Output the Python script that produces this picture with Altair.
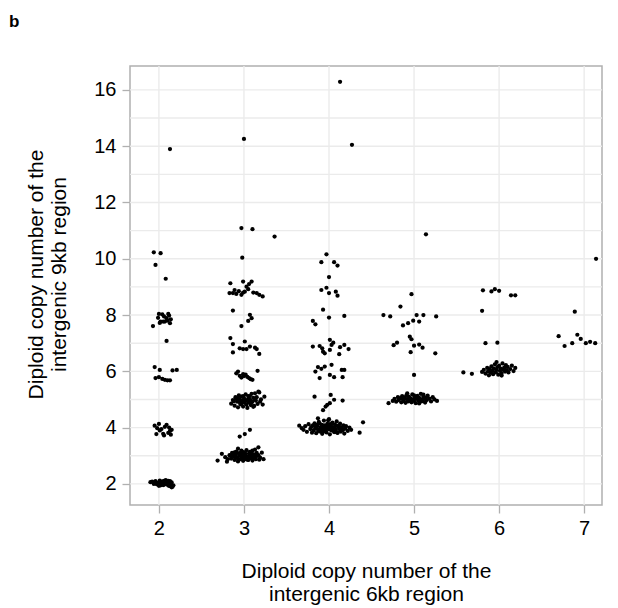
import altair as alt
import pandas as pd

# ---- data (x = jittered 6kb copy number, y = 9kb copy number) ----
col2 = [
    (2.13, 13.90), (1.94, 10.23), (2.02, 10.20), (1.96, 9.78), (2.08, 9.29),
    (2.00, 8.04), (2.06, 7.95), (2.11, 8.04), (2.09, 7.89), (2.02, 7.77), (2.05, 7.77),
    (2.13, 7.71), (1.93, 7.61), (2.07, 7.77), (1.99, 7.90), (2.12, 7.98), (2.10, 7.80),
    (2.04, 8.02), (2.01, 7.72), (2.14, 7.85), (2.09, 7.08),
    (1.95, 6.15), (2.01, 6.05), (2.16, 6.03), (2.21, 6.05), (1.96, 5.76), (2.00, 5.79),
    (2.04, 5.73), (2.07, 5.70), (2.10, 5.68), (2.13, 5.68),
    (1.95, 4.07), (2.00, 4.13), (2.03, 3.95), (1.97, 3.77), (2.09, 4.10), (2.13, 3.88),
    (2.05, 3.78), (2.11, 3.81), (2.15, 3.92), (2.07, 4.03), (2.01, 3.90), (2.12, 4.00),
    (2.14, 3.75), (1.98, 3.98), (2.06, 3.72),
]
col2_low = [
    (1.92, 2.08), (1.94, 2.05), (1.96, 2.10), (1.98, 1.98), (2.00, 2.02), (2.01, 2.12),
    (2.02, 1.95), (2.03, 2.06), (2.04, 2.00), (2.05, 2.09), (2.06, 1.97), (2.07, 2.04),
    (2.08, 2.13), (2.09, 1.99), (2.10, 2.07), (2.11, 1.94), (2.12, 2.03), (2.13, 2.10),
    (2.14, 1.96), (2.15, 2.05), (2.16, 1.90), (1.96, 2.01), (1.99, 2.04), (2.02, 2.08),
    (2.05, 1.96), (2.08, 2.00), (2.11, 2.11), (2.13, 1.92), (2.17, 1.95), (2.04, 2.02),
    (1.94, 2.00), (2.00, 1.93), (2.06, 2.11), (2.12, 1.98), (2.15, 1.88), (1.90, 2.06),
]
col3 = [
    (3.00, 14.26), (2.97, 11.09), (3.10, 11.05), (3.36, 10.79), (2.98, 10.04),
    (2.84, 9.13), (2.83, 8.78), (2.87, 8.78), (2.91, 8.75), (2.89, 8.89), (2.99, 9.19),
    (2.97, 8.72), (3.01, 8.83), (3.03, 9.01), (3.06, 9.10), (3.09, 9.19), (3.11, 8.80),
    (3.15, 8.78), (3.18, 8.72), (3.22, 8.66), (2.94, 8.85), (3.05, 8.92), (2.99, 8.80),
    (2.87, 8.16), (3.07, 8.01), (3.09, 7.89), (3.05, 7.79), (2.97, 7.61),
    (2.84, 7.18), (2.87, 6.97), (2.87, 6.67), (3.01, 7.06), (2.99, 6.79), (3.03, 6.79),
    (3.07, 6.88), (3.13, 6.84), (3.15, 6.79), (3.18, 6.62), (2.95, 6.82),
    (2.91, 5.93), (2.93, 5.99), (2.95, 5.84), (2.97, 5.78), (2.99, 5.90), (3.00, 5.83),
    (3.02, 5.88), (3.04, 5.80), (3.06, 5.76), (3.08, 5.72), (3.10, 5.70), (3.16, 6.02),
    (2.95, 3.68), (3.01, 3.77), (3.07, 3.92),
]
col3_mid = [
    (2.85, 4.85), (2.87, 4.98), (2.89, 4.78), (2.90, 5.08), (2.92, 4.92), (2.93, 4.72),
    (2.94, 5.15), (2.95, 5.00), (2.96, 4.83), (2.97, 5.10), (2.98, 4.95), (2.99, 4.75),
    (3.00, 5.05), (3.01, 4.88), (3.02, 5.18), (3.03, 4.97), (3.04, 4.70), (3.05, 5.02),
    (3.06, 4.90), (3.07, 5.12), (3.08, 4.80), (3.09, 5.20), (3.10, 4.93), (3.11, 5.06),
    (3.12, 4.77), (3.13, 5.22), (3.14, 4.96), (3.15, 5.08), (3.16, 4.84), (3.18, 5.25),
    (3.20, 5.00), (3.22, 4.82), (3.24, 5.10), (2.91, 5.02), (2.95, 4.90), (2.99, 5.12),
    (3.03, 4.82), (3.07, 5.00), (3.11, 4.74), (3.17, 5.28), (2.88, 4.94), (2.93, 5.05),
    (2.97, 4.86), (3.01, 4.98), (3.05, 5.12), (3.09, 4.88), (3.13, 5.02), (3.19, 4.92),
]
col3_low = [
    (2.69, 2.83), (2.74, 3.07), (2.80, 2.79), (2.78, 2.95), (2.83, 3.02), (2.85, 2.90),
    (2.86, 3.10), (2.88, 2.98), (2.89, 2.85), (2.90, 3.05), (2.91, 3.15), (2.92, 2.93),
    (2.93, 2.80), (2.94, 3.08), (2.95, 3.00), (2.96, 2.88), (2.97, 3.18), (2.98, 2.95),
    (2.99, 2.82), (3.00, 3.12), (3.01, 3.03), (3.02, 2.90), (3.03, 3.20), (3.04, 2.97),
    (3.05, 2.86), (3.06, 3.08), (3.07, 3.00), (3.08, 2.92), (3.09, 3.15), (3.10, 2.83),
    (3.11, 3.05), (3.12, 2.97), (3.13, 3.22), (3.14, 2.88), (3.15, 3.10), (3.17, 3.02),
    (3.19, 2.93), (3.21, 3.11), (3.23, 2.88), (2.87, 3.04), (2.91, 2.96), (2.95, 3.09),
    (2.99, 3.01), (3.03, 2.87), (3.07, 3.14), (3.11, 2.92), (3.15, 2.99), (2.93, 3.25),
    (2.97, 3.06), (3.01, 2.95), (3.05, 2.85), (3.09, 3.03), (3.13, 2.98), (2.84, 3.00),
    (3.17, 3.30), (2.89, 3.12), (2.93, 2.89), (2.98, 3.14), (3.02, 3.07), (3.06, 2.94),
    (3.10, 3.18), (3.14, 3.05), (3.18, 2.86), (2.81, 2.88), (3.00, 2.91),
]
col4 = [
    (4.13, 16.29), (4.27, 14.05), (3.97, 10.16), (3.91, 9.88), (4.06, 9.88), (4.10, 9.76),
    (4.00, 9.35), (3.91, 8.89), (3.97, 8.97), (4.00, 8.78), (4.08, 8.83), (4.10, 8.69),
    (3.93, 8.19), (3.81, 7.79), (3.84, 7.67), (4.00, 7.91), (4.18, 7.97),
    (4.01, 7.12), (3.81, 6.88), (3.89, 6.90), (3.92, 6.82), (3.93, 6.70), (3.95, 6.64),
    (4.03, 6.94), (4.05, 7.02), (4.01, 6.76), (4.13, 6.86), (4.18, 6.94), (4.23, 6.79),
    (4.12, 6.61),
    (4.03, 6.23), (3.95, 6.17), (3.87, 6.15), (3.91, 6.09), (3.84, 5.99), (3.89, 5.76),
    (4.01, 5.87), (4.06, 5.79), (4.15, 6.05), (4.18, 6.05), (4.16, 5.79),
    (3.83, 5.10), (4.02, 5.16), (4.06, 4.99), (4.01, 4.87), (3.98, 4.81), (3.96, 4.75),
    (4.16, 4.96), (3.93, 4.62), (3.87, 4.33),
]
col4_low = [
    (3.65, 4.07), (3.68, 3.98), (3.70, 3.92), (3.72, 4.05), (3.74, 3.85), (3.76, 4.12),
    (3.78, 3.95), (3.79, 4.02), (3.80, 3.82), (3.81, 4.08), (3.82, 3.90), (3.83, 4.15),
    (3.84, 3.98), (3.85, 3.80), (3.86, 4.05), (3.87, 3.93), (3.88, 4.20), (3.89, 3.87),
    (3.90, 4.00), (3.91, 4.10), (3.92, 3.78), (3.93, 3.96), (3.94, 4.25), (3.95, 3.88),
    (3.96, 4.03), (3.97, 3.83), (3.98, 4.13), (3.99, 3.95), (4.00, 4.30), (4.01, 3.76),
    (4.02, 4.06), (4.03, 3.90), (4.04, 4.18), (4.05, 3.99), (4.06, 3.84), (4.07, 4.10),
    (4.08, 3.94), (4.09, 4.22), (4.10, 3.81), (4.11, 4.04), (4.12, 3.97), (4.13, 4.14),
    (4.14, 3.86), (4.15, 4.01), (4.16, 3.91), (4.17, 4.08), (4.18, 3.79), (4.19, 3.96),
    (4.20, 4.05), (4.22, 3.88), (4.24, 4.00), (4.26, 3.92), (3.84, 4.02), (3.88, 3.89),
    (3.92, 4.09), (3.96, 3.94), (4.00, 3.98), (4.04, 4.16), (4.08, 3.85), (4.12, 4.03),
    (4.16, 3.93), (3.86, 4.11), (3.90, 3.96), (3.94, 3.87), (3.98, 4.06), (4.02, 3.92),
    (4.06, 4.00), (4.10, 3.83), (4.14, 3.97), (3.93, 4.01), (3.99, 4.26), (4.05, 3.90),
    (4.11, 4.04), (4.40, 4.19), (4.36, 3.82), (3.89, 4.15), (3.95, 4.08), (4.01, 4.12),
    (4.07, 3.88), (4.13, 3.92), (3.97, 3.99), (4.03, 4.03), (4.09, 4.07), (3.91, 3.85),
]
col5 = [
    (5.14, 10.87), (4.97, 8.74), (4.84, 8.30), (4.64, 8.00), (4.72, 7.95), (5.03, 8.00),
    (5.11, 8.00), (5.26, 7.95), (4.93, 7.71), (4.99, 7.80), (5.06, 7.77), (4.87, 7.63),
    (4.95, 7.23), (4.97, 7.14), (4.76, 6.93), (4.80, 7.02), (5.00, 6.91), (5.06, 6.95),
    (5.10, 6.84), (4.96, 6.68), (5.25, 6.64), (5.00, 5.87),
]
col5_low = [
    (4.70, 4.87), (4.75, 4.95), (4.77, 5.02), (4.79, 4.92), (4.81, 5.08), (4.82, 4.98),
    (4.84, 5.05), (4.85, 4.90), (4.86, 5.12), (4.87, 5.00), (4.88, 4.94), (4.89, 5.07),
    (4.90, 4.88), (4.91, 5.15), (4.92, 5.01), (4.93, 4.93), (4.94, 5.10), (4.95, 4.97),
    (4.96, 5.04), (4.97, 4.90), (4.98, 5.18), (4.99, 5.00), (5.00, 4.95), (5.01, 5.09),
    (5.02, 4.87), (5.03, 5.03), (5.04, 5.13), (5.05, 4.96), (5.06, 5.06), (5.07, 4.91),
    (5.08, 5.20), (5.09, 5.00), (5.10, 4.94), (5.11, 5.11), (5.12, 5.02), (5.13, 4.89),
    (5.14, 5.07), (5.15, 4.98), (5.16, 5.14), (5.18, 5.03), (5.20, 4.93), (5.22, 5.08),
    (5.24, 5.00), (5.27, 4.95), (4.92, 5.22), (5.00, 5.15), (5.06, 4.86), (4.88, 5.01),
    (5.11, 5.17), (4.96, 4.95),
]
col6 = [
    (5.81, 8.88), (5.91, 8.84), (5.95, 8.92), (6.00, 8.86), (6.14, 8.70), (6.19, 8.70),
    (5.80, 8.15), (5.84, 7.00), (5.98, 7.02), (5.58, 5.96), (5.68, 5.91),
]
col6_low = [
    (5.80, 5.98), (5.82, 6.05), (5.84, 5.92), (5.86, 6.12), (5.87, 6.00), (5.88, 5.86),
    (5.89, 6.08), (5.90, 5.95), (5.91, 6.18), (5.92, 6.02), (5.93, 5.90), (5.94, 6.10),
    (5.95, 6.25), (5.96, 5.97), (5.97, 6.05), (5.98, 6.15), (5.99, 5.88), (6.00, 6.20),
    (6.01, 6.02), (6.02, 6.10), (6.03, 5.94), (6.04, 6.28), (6.05, 6.06), (6.06, 6.13),
    (6.07, 5.99), (6.08, 6.22), (6.09, 6.04), (6.10, 6.16), (6.11, 5.96), (6.13, 6.08),
    (6.15, 6.20), (6.17, 6.01), (6.19, 6.12), (5.97, 6.33), (6.03, 5.85),
]
col7 = [
    (7.14, 10.00), (6.89, 8.12), (6.70, 7.25), (6.77, 6.90), (6.86, 7.00), (6.92, 7.30),
    (6.96, 7.15), (7.02, 7.00), (7.07, 7.05), (7.13, 7.00),
]

x_ticks = [2, 3, 4, 5, 6, 7]
y_ticks = [2, 4, 6, 8, 10, 12, 14, 16]
y_grid = list(range(2, 17))
x_title = ["Diploid copy number of the", "intergenic 6kb region"]
y_title = ["Diploid copy number of the", "intergenic 9kb region"]
panel_label = ["b"]

groups = [col2, col2_low, col3, col3_mid, col3_low, col4, col4_low,
          col5, col5_low, col6, col6_low, col7]
rows = [{"x": p[0], "y": p[1]} for g in groups for p in g]
df = pd.DataFrame(rows)

xs = alt.Scale(domain=[1.66, 7.21], nice=False, zero=False)
ys = alt.Scale(domain=[1.25, 16.85], nice=False, zero=False)
FONT = "Liberation Sans"
GRID = "#ebebeb"
FRAME = "#b0b0b0"

ygrid = alt.Chart(pd.DataFrame({"g": y_grid})).mark_rule(
    color=GRID, strokeWidth=1.4
).encode(y=alt.Y("g:Q", scale=ys))
xgrid = alt.Chart(pd.DataFrame({"g": x_ticks})).mark_rule(
    color=GRID, strokeWidth=1.4
).encode(x=alt.X("g:Q", scale=xs))

pts = alt.Chart(df).mark_circle(color="black", opacity=1, size=18).encode(
    x=alt.X("x:Q", scale=xs, title=x_title,
            axis=alt.Axis(values=x_ticks, format="d", grid=False, domain=False,
                          tickColor=FRAME, tickSize=8, tickWidth=1.3,
                          labelFontSize=20, labelColor="black", labelPadding=5,
                          titleFontSize=21, titleFontWeight="normal",
                          titleColor="black", titlePadding=22, titleFont=FONT,
                          titleLineHeight=23, labelFont=FONT)),
    y=alt.Y("y:Q", scale=ys, title=y_title,
            axis=alt.Axis(values=y_ticks, format="d", grid=False, domain=False,
                          tickColor=FRAME, tickSize=8, tickWidth=1.3,
                          labelFontSize=20, labelColor="black", labelPadding=6,
                          titleFontSize=21, titleFontWeight="normal",
                          titleColor="black", titlePadding=24, titleFont=FONT,
                          titleLineHeight=23, titleY=208, labelFont=FONT)),
)

label = alt.Chart(pd.DataFrame({"t": panel_label})).mark_text(
    align="left", baseline="alphabetic", fontSize=17, fontWeight="bold",
    font=FONT, color="black"
).encode(x=alt.value(-121), y=alt.value(-39), text="t:N")

chart = alt.layer(ygrid, xgrid, pts, label).properties(
    width=472, height=439,
    autosize=alt.AutoSizeParams(type="none"),
    padding={"left": 130, "top": 66, "right": 16, "bottom": 103},
).configure_view(stroke=FRAME, strokeWidth=1.5)

chart.save("out.html", embed_options={"renderer": "svg", "actions": False})
